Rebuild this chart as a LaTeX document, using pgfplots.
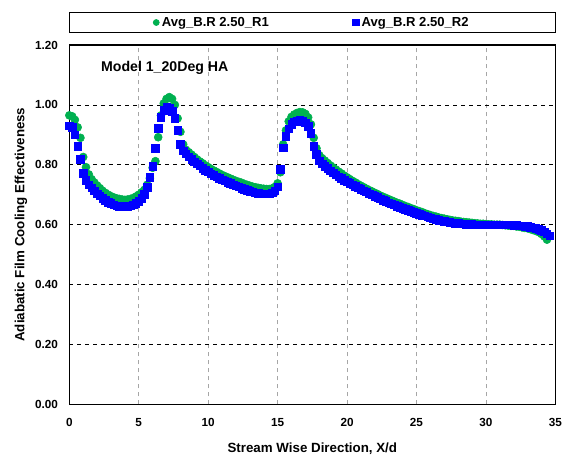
\documentclass[border=0pt]{standalone}
\usepackage{pgfplots}
\usepackage{pgfplotstable}
\usepackage{fontspec}
\setmainfont{Liberation Sans}
\pgfplotsset{compat=1.18}
\definecolor{excelgreen}{RGB}{0,176,80}
\definecolor{excelblue}{RGB}{0,0,255}

\pgfplotstableread{
x y
0.0 0.965
0.2 0.962
0.4 0.950
0.6 0.925
0.8 0.890
1.0 0.826
1.2 0.792
1.4 0.768
1.6 0.752
1.8 0.741
2.0 0.731
2.2 0.722
2.4 0.713
2.6 0.706
2.8 0.700
3.0 0.695
3.2 0.691
3.4 0.688
3.6 0.686
3.8 0.684
4.0 0.683
4.2 0.684
4.4 0.686
4.6 0.689
4.8 0.694
5.0 0.700
5.2 0.708
5.4 0.716
5.6 0.733
5.8 0.755
6.0 0.790
6.2 0.812
6.4 0.892
6.6 0.965
6.8 1.005
7.0 1.020
7.2 1.026
7.4 1.020
7.6 1.000
7.8 0.955
8.0 0.910
8.2 0.868
8.4 0.850
8.6 0.842
8.8 0.834
9.0 0.826
9.2 0.818
9.4 0.811
9.6 0.805
9.8 0.798
10.0 0.792
10.2 0.786
10.4 0.781
10.6 0.776
10.8 0.771
11.0 0.766
11.2 0.762
11.4 0.758
11.6 0.754
11.8 0.750
12.0 0.746
12.2 0.743
12.4 0.740
12.6 0.736
12.8 0.733
13.0 0.730
13.2 0.727
13.4 0.725
13.6 0.723
13.8 0.721
14.0 0.720
14.2 0.719
14.4 0.719
14.6 0.721
14.8 0.726
15.0 0.738
15.2 0.775
15.4 0.868
15.6 0.915
15.8 0.945
16.0 0.960
16.2 0.968
16.4 0.973
16.6 0.976
16.8 0.975
17.0 0.970
17.2 0.958
17.4 0.935
17.6 0.890
17.8 0.855
18.0 0.832
18.2 0.822
18.4 0.814
18.6 0.806
18.8 0.798
19.0 0.791
19.2 0.784
19.4 0.777
19.6 0.771
19.8 0.764
20.0 0.758
20.2 0.752
20.4 0.746
20.6 0.741
20.8 0.735
21.0 0.730
21.2 0.725
21.4 0.720
21.6 0.715
21.8 0.711
22.0 0.706
22.2 0.702
22.4 0.697
22.6 0.693
22.8 0.689
23.0 0.685
23.2 0.681
23.4 0.677
23.6 0.673
23.8 0.670
24.0 0.666
24.2 0.662
24.4 0.659
24.6 0.655
24.8 0.652
25.0 0.648
25.2 0.645
25.4 0.642
25.6 0.638
25.8 0.635
26.0 0.632
26.2 0.629
26.4 0.627
26.6 0.624
26.8 0.622
27.0 0.620
27.2 0.618
27.4 0.616
27.6 0.614
27.8 0.613
28.0 0.612
28.2 0.610
28.4 0.609
28.6 0.608
28.8 0.607
29.0 0.606
29.2 0.605
29.4 0.604
29.6 0.603
29.8 0.603
30.0 0.602
30.2 0.601
30.4 0.601
30.6 0.600
30.8 0.600
31.0 0.600
31.2 0.599
31.4 0.598
31.6 0.597
31.8 0.596
32.0 0.596
32.2 0.594
32.4 0.593
32.6 0.591
32.8 0.589
33.0 0.588
33.2 0.585
33.4 0.582
33.6 0.579
33.8 0.575
34.0 0.569
34.2 0.561
34.4 0.550
}\runone

\pgfplotstableread{
x y
0.0 0.930
0.2 0.925
0.4 0.900
0.6 0.862
0.8 0.818
1.0 0.772
1.2 0.748
1.4 0.734
1.6 0.724
1.8 0.713
2.0 0.704
2.2 0.696
2.4 0.688
2.6 0.681
2.8 0.675
3.0 0.671
3.2 0.667
3.4 0.664
3.6 0.661
3.8 0.660
4.0 0.660
4.2 0.661
4.4 0.663
4.6 0.667
4.8 0.672
5.0 0.678
5.2 0.688
5.4 0.702
5.6 0.725
5.8 0.758
6.0 0.795
6.2 0.855
6.4 0.922
6.6 0.958
6.8 0.982
7.0 0.992
7.2 0.990
7.4 0.978
7.6 0.955
7.8 0.915
8.0 0.868
8.2 0.846
8.4 0.836
8.6 0.826
8.8 0.818
9.0 0.810
9.2 0.803
9.4 0.796
9.6 0.789
9.8 0.782
10.0 0.776
10.2 0.770
10.4 0.765
10.6 0.760
10.8 0.755
11.0 0.750
11.2 0.746
11.4 0.742
11.6 0.738
11.8 0.734
12.0 0.730
12.2 0.726
12.4 0.722
12.6 0.718
12.8 0.715
13.0 0.712
13.2 0.709
13.4 0.707
13.6 0.705
13.8 0.704
14.0 0.703
14.2 0.703
14.4 0.704
14.6 0.707
14.8 0.713
15.0 0.726
15.2 0.785
15.4 0.856
15.6 0.895
15.8 0.920
16.0 0.935
16.2 0.943
16.4 0.947
16.6 0.948
16.8 0.946
17.0 0.940
17.2 0.928
17.4 0.905
17.6 0.862
17.8 0.835
18.0 0.813
18.2 0.803
18.4 0.795
18.6 0.788
18.8 0.780
19.0 0.773
19.2 0.767
19.4 0.760
19.6 0.755
19.8 0.748
20.0 0.743
20.2 0.738
20.4 0.733
20.6 0.728
20.8 0.723
21.0 0.718
21.2 0.713
21.4 0.709
21.6 0.704
21.8 0.700
22.0 0.695
22.2 0.691
22.4 0.687
22.6 0.682
22.8 0.678
23.0 0.674
23.2 0.670
23.4 0.666
23.6 0.662
23.8 0.658
24.0 0.655
24.2 0.651
24.4 0.648
24.6 0.644
24.8 0.641
25.0 0.638
25.2 0.635
25.4 0.632
25.6 0.629
25.8 0.626
26.0 0.623
26.2 0.620
26.4 0.618
26.6 0.615
26.8 0.613
27.0 0.611
27.2 0.609
27.4 0.608
27.6 0.606
27.8 0.605
28.0 0.604
28.2 0.603
28.4 0.603
28.6 0.602
28.8 0.601
29.0 0.601
29.2 0.600
29.4 0.600
29.6 0.600
29.8 0.600
30.0 0.600
30.2 0.600
30.4 0.600
30.6 0.600
30.8 0.600
31.0 0.600
31.2 0.600
31.4 0.599
31.6 0.599
31.8 0.599
32.0 0.598
32.2 0.598
32.4 0.597
32.6 0.596
32.8 0.595
33.0 0.594
33.2 0.592
33.4 0.590
33.6 0.588
33.8 0.585
34.0 0.581
34.2 0.576
34.4 0.569
34.6 0.563
}\runtwo

\begin{document}
\begin{tikzpicture}
\useasboundingbox (0,0) rectangle (423.75pt,342.75pt);
\begin{axis}[
    at={(52pt,39.5pt)}, anchor=south west,
    scale only axis,
    width=364.5pt, height=269.5pt,
    xmin=0, xmax=35, ymin=0, ymax=1.2,
    xtick={0,5,...,35},
    ytick={0,0.2,0.4,0.6,0.8,1.0,1.2},
    major tick length=0pt,
    xmajorgrids=true, ymajorgrids=true,
    x grid style={dashed, gray!70, line width=0.5pt},
    y grid style={dashed, black, line width=0.5pt},
    axis line style={black, line width=0.8pt},
    tick label style={font=\fontsize{8.8}{10}\selectfont\bfseries},
    /pgf/number format/assume math mode=true,
    y tick label style={/pgf/number format/fixed, /pgf/number format/fixed zerofill, /pgf/number format/precision=2, xshift=-5pt},
    x tick label style={yshift=-7pt},
    xlabel={Stream Wise Direction, X/d},
    ylabel={Adiabatic Film Cooling Effectiveness},
    label style={font=\fontsize{10}{12}\selectfont\bfseries},
    xlabel style={yshift=-5pt},
    ylabel style={yshift=-1pt},
    legend columns=2,
    legend style={
        at={(0.5,1)}, anchor=south, yshift=8.8pt,
        draw=black, line width=0.6pt,
        font=\fontsize{9.8}{11}\selectfont\bfseries,
        inner xsep=63pt, inner ysep=1.6pt,
        /tikz/every even column/.append style={column sep=61pt},
    },
    legend cell align=left,
]
\addplot[only marks, mark=*, mark size=3pt, excelgreen, mark options={draw=excelgreen, fill=excelgreen},
    legend image post style={mark size=2.2pt}] table[x=x,y=y] {\runone};
\addlegendentry{Avg\_B.R 2.50\_R1}
\addplot[only marks, mark=square*, mark size=2.8pt, excelblue, mark options={draw=excelblue, fill=excelblue},
    legend image post style={mark size=2.3pt}] table[x=x,y=y] {\runtwo};
\addlegendentry{Avg\_B.R 2.50\_R2}
\node[anchor=west, font=\fontsize{10.6}{12}\selectfont\bfseries] at (axis cs:1.95,1.125) {Model 1\_20Deg HA};
\end{axis}
\end{tikzpicture}
\end{document}
